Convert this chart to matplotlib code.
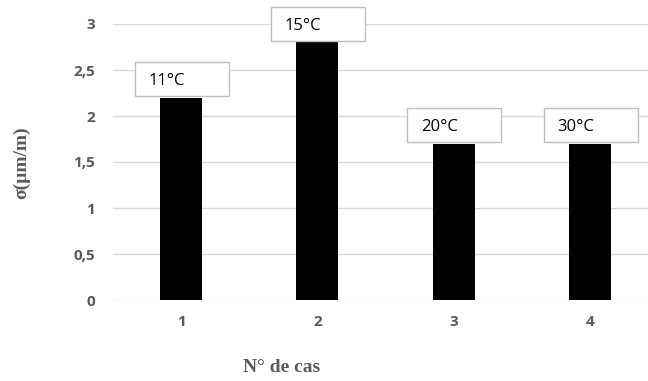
import matplotlib.pyplot as plt
from matplotlib.patches import Rectangle

cases = ["1", "2", "3", "4"]
sigma = [2.2, 2.8, 1.7, 1.7]
temps = ["11°C", "15°C", "20°C", "30°C"]
y_ticks = [0, 0.5, 1, 1.5, 2, 2.5, 3]
y_tick_labels = ["0", "0,5", "1", "1,5", "2", "2,5", "3"]

grey = "#595959"

fig = plt.figure(figsize=(6.48, 3.81), dpi=100)
ax = fig.add_axes([113 / 648, 81 / 381, 545 / 648, 276 / 381])

x = list(range(len(cases)))
ax.bar(x, sigma, width=0.31, color="black", zorder=3)

ax.set_xlim(-0.5, 3.5)
ax.set_ylim(0, 3)
ax.set_yticks(y_ticks)
ax.set_yticklabels(y_tick_labels)
ax.set_xticks(x)
ax.set_xticklabels(cases)
for lab in ax.get_xticklabels() + ax.get_yticklabels():
    lab.set_fontfamily("Open Sans")
    lab.set_fontweight("bold")
    lab.set_fontsize(11)
    lab.set_color(grey)
ax.tick_params(axis="y", length=0, pad=13)
ax.tick_params(axis="x", length=0, pad=11)

ax.grid(axis="y", color="#d9d9d9", linewidth=1, zorder=0)
for side in ["top", "right", "left", "bottom"]:
    ax.spines[side].set_visible(False)

# data label boxes sitting on top of the bars
box_w, box_h = 0.69, 0.37
for xi, v, t in zip(x, sigma, temps):
    left = xi - 0.34
    ax.add_patch(Rectangle((left, v + 0.02), box_w, box_h, facecolor="white",
                           edgecolor="#bfbfbf", linewidth=1, zorder=4, clip_on=False))
    ax.text(left + 0.1, v + 0.02 + box_h / 2 - 0.03, t, ha="left", va="center",
            fontsize=12, family="Open Sans", color="black", zorder=5, clip_on=False)

fig.text(22 / 648, 1 - 163 / 381, "σ(µm/m)", rotation=90, ha="center", va="center",
         family="Liberation Serif", fontweight="bold", fontsize=14, color=grey)
fig.text(282 / 648, 1 - 368 / 381, "N° de cas", ha="center", va="center",
         family="Liberation Serif", fontweight="bold", fontsize=14, color=grey)

fig.savefig("out.png", dpi=100)
